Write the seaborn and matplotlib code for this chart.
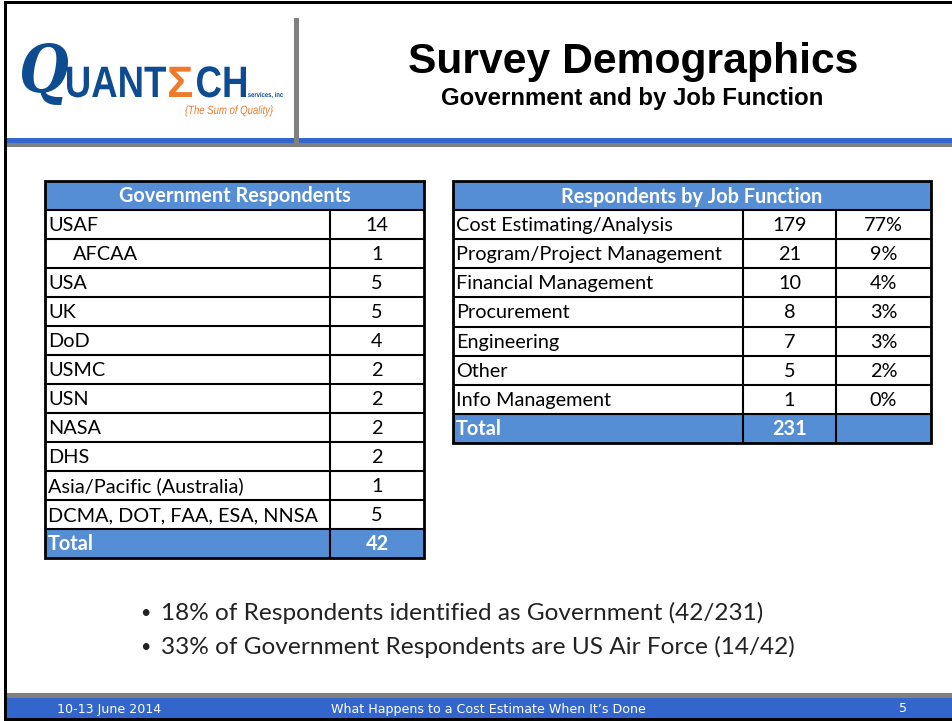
import matplotlib
matplotlib.use("Agg")
import matplotlib.pyplot as plt
from matplotlib.patches import Rectangle, PathPatch
from matplotlib.textpath import TextPath
from matplotlib.font_manager import FontProperties
from matplotlib.transforms import Affine2D
import seaborn as sns

# table data
gov_agencies = ["USAF", "AFCAA", "USA", "UK", "DoD", "USMC", "USN", "NASA", "DHS",
                "Asia/Pacific (Australia)", "DCMA, DOT, FAA, ESA, NNSA"]
gov_counts = [14, 1, 5, 5, 4, 2, 2, 2, 2, 1, 5]
gov_total = 42

job_functions = ["Cost Estimating/Analysis", "Program/Project Management", "Financial Management",
                 "Procurement", "Engineering", "Other", "Info Management"]
job_counts = [179, 21, 10, 8, 7, 5, 1]
job_pcts = ["77%", "9%", "4%", "3%", "3%", "2%", "0%"]
job_total = 231

bullets = ["18% of Respondents identified as Government (42/231)",
           "33% of Government Respondents are US Air Force (14/42)"]

sns.set_theme(style="white")
plt.rcParams['font.family'] = ['Lato', 'DejaVu Sans']

W, H = 952, 721
fig = plt.figure(figsize=(W / 100, H / 100), dpi=100)
ax = fig.add_axes([0, 0, 1, 1])
ax.set_xlim(0, W)
ax.set_ylim(H, 0)
ax.axis("off")

HEAD_BLUE = "#558ED5"
BAR_BLUE = "#3366CC"
GRAY = "#808080"
BODY = 14.3


def rect(x0, y0, x1, y1, fc, ec="none", lw=0, z=1):
    ax.add_patch(Rectangle((x0, y0), x1 - x0, y1 - y0, facecolor=fc, edgecolor=ec, linewidth=lw, zorder=z))


def fit_text(s, x0, x1, baseline, size, prop, color):
    # draw text as a path squeezed to span x0..x1 (pixel coords, y down)
    tp = TextPath((0, 0), s, size=size, prop=prop)
    ext = tp.get_extents()
    sx = (x1 - x0) / ext.width
    tr = Affine2D().translate(-ext.x0, 0).scale(sx, -1).translate(x0, baseline)
    ax.add_patch(PathPatch(tr.transform_path(tp), facecolor=color, edgecolor="none", zorder=6))


# slide frame, header rules, footer
rect(4, 1, W, 4, "black", z=5)
rect(4, 1, 7, 720, "black", z=5)
rect(4, 718, W, 721, "black", z=5)
rect(7, 138, W, 143, BAR_BLUE)
rect(7, 143, W, 147, GRAY)
rect(294, 18, 299, 147, GRAY, z=2)
rect(7, 693, W, 698, GRAY)
rect(7, 698, W, 718, BAR_BLUE)

# logo
logo_blue = "#0E4C92"
orange = "#EE7A2A"
bold_sans = FontProperties(family="Liberation Sans", weight="bold")
fit_text("Q", 22, 68, 92, 66, FontProperties(family="DejaVu Serif", style="italic", weight="bold"), logo_blue)
fit_text("UANT", 67, 166, 97, 44, bold_sans, logo_blue)
fit_text("Σ", 169, 192, 97, 44, bold_sans, orange)
fit_text("CH", 197, 246, 97, 44, bold_sans, logo_blue)
fit_text("services, inc", 248, 283, 97, 7, bold_sans, logo_blue)
fit_text("{The Sum of Quality}", 185, 273, 114, 12, FontProperties(family="Liberation Sans", style="italic"), orange)

# title
ax.text(633, 62, "Survey Demographics", fontsize=30.7, fontweight="bold",
        family="Liberation Sans", ha="center", va="center", color="black")
ax.text(632, 98, "Government and by Job Function", fontsize=14.5 * 381 / 320, fontweight="bold",
        family="Liberation Sans", ha="center", va="center", color="black")


def draw_table(x_edges, y0, row_h, title, rows, total_row):
    xl, xr = x_edges[0], x_edges[-1]
    n = len(rows)
    # header
    rect(xl, y0, xr, y0 + row_h, HEAD_BLUE)
    ax.text((xl + xr) / 2, y0 + row_h / 2 + 1, title, fontsize=BODY, fontweight="bold",
            color="white", ha="center", va="center")
    # body rows
    for i, row in enumerate(rows):
        yt = y0 + row_h * (i + 1)
        for j, val in enumerate(row):
            if j == 0:
                indent = 28 if val.startswith("  ") else 3
                ax.text(xl + indent, yt + row_h / 2 + 1, val.strip(), fontsize=BODY,
                        ha="left", va="center", color="black")
            else:
                ax.text((x_edges[j] + x_edges[j + 1]) / 2, yt + row_h / 2 + 1, val,
                        fontsize=BODY, ha="center", va="center", color="black")
    # total row
    yt = y0 + row_h * (n + 1)
    rect(xl, yt, xr, yt + row_h, HEAD_BLUE)
    for j, val in enumerate(total_row):
        if j == 0:
            ax.text(xl + 3, yt + row_h / 2 + 1, val, fontsize=BODY, fontweight="bold",
                    color="white", ha="left", va="center")
        else:
            ax.text((x_edges[j] + x_edges[j + 1]) / 2, yt + row_h / 2 + 1, val, fontsize=BODY,
                    fontweight="bold", color="white", ha="center", va="center")
    y_end = yt + row_h
    # grid lines
    for k in range(1, n + 2):
        yy = y0 + row_h * k
        ax.plot([xl, xr], [yy, yy], color="black", lw=1.5, zorder=3, solid_capstyle="butt")
    for xx in x_edges[1:-1]:
        ax.plot([xx, xx], [y0 + row_h, y_end], color="black", lw=1.5, zorder=3)
    ax.add_patch(Rectangle((xl, y0), xr - xl, y_end - y0, facecolor="none",
                           edgecolor="black", linewidth=2, zorder=4))


gov_rows = [[("    " + a) if a == "AFCAA" else a, str(c)] for a, c in zip(gov_agencies, gov_counts)]
draw_table([45, 330, 424], 181, 29, "Government Respondents", gov_rows, ["Total", str(gov_total)])

job_rows = [[f, str(c), p] for f, c, p in zip(job_functions, job_counts, job_pcts)]
draw_table([453, 743, 836, 931], 181, 29.1, "Respondents by Job Function", job_rows,
           ["Total", str(job_total), ""])

# bullets
for i, b in enumerate(bullets):
    y = 613 + 34 * i
    ax.text(145, y, "•", fontsize=13, ha="center", va="center", color="#222222")
    ax.text(161, y, b, fontsize=17.6, ha="left", va="center", color="#222222")

# footer
foot_font = ["Liberation Sans Narrow", "DejaVu Sans"]
ax.text(57, 709, "10-13 June 2014", fontsize=9.1, color="white", ha="left", va="center", family=foot_font)
ax.text(488, 709, "What Happens to a Cost Estimate When It\u2019s Done", fontsize=9.1, color="white",
        ha="center", va="center", family=foot_font)
ax.text(903, 709, "5", fontsize=9.1, color="white", ha="center", va="center", family=foot_font)

fig.savefig("out.png", dpi=100)
